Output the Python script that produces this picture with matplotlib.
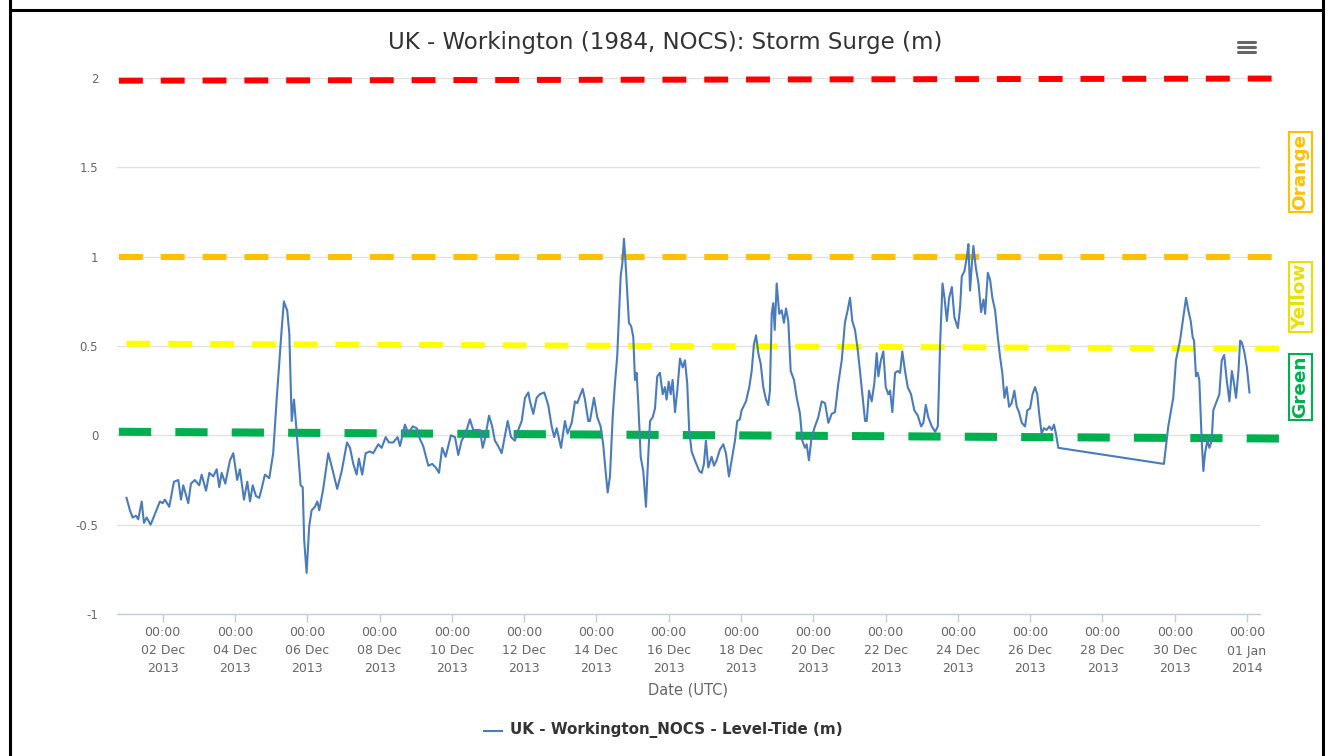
import numpy as np
import pandas as pd
import matplotlib
matplotlib.use("Agg")
import matplotlib.pyplot as plt
import matplotlib.dates as mdates
from matplotlib.lines import Line2D

# Storm surge at Workington, hours after 2013-12-01 00:00 UTC
hours = [
    0.0, 2.3, 4.1, 6.3, 7.8, 10.1, 11.6, 13.4, 16.0, 18.9, 22.2, 24.0, 25.5, 28.4,
    31.5, 34.4, 36.2, 37.7, 41.0, 42.8, 45.4, 48.3, 49.9, 52.8, 55.0, 57.6, 59.9,
    61.6, 63.2, 65.6, 68.7, 70.9, 73.5, 75.3, 78.0, 80.2, 82.0, 83.8, 86.0, 88.1,
    89.7, 91.9, 94.8, 97.4, 99.7, 101.4, 103.0, 104.5, 105.7, 106.7, 108.1, 109.7,
    111.2, 112.5, 114.0, 115.6, 117.0, 118.0, 119.6, 121.3, 122.9, 125.1, 126.7,
    128.0, 130.6, 134.0, 137.3, 139.9, 142.9, 146.4, 148.4, 150.6, 152.8, 154.3,
    156.5, 158.8, 161.6, 163.8, 167.2, 169.4, 172.1, 174.3, 177.1, 180.0, 181.6,
    184.9, 187.1, 190.0, 192.7, 194.8, 197.0, 200.4, 203.0, 205.3, 207.5, 209.6,
    211.9, 215.4, 218.1, 220.3, 222.5, 225.2, 228.0, 230.2, 232.5, 234.7, 236.5,
    238.0, 240.7, 242.8, 244.6, 246.8, 249.1, 251.3, 253.1, 255.3, 257.9, 260.1,
    262.4, 264.6, 266.8, 267.9, 270.1, 272.3, 274.5, 277.4, 280.0, 282.3, 284.0,
    285.6, 288.5, 291.1, 292.9, 295.6, 297.8, 299.3, 300.6, 302.9, 304.4, 306.6,
    307.7, 310.4, 312.6, 314.8, 316.5, 318.1, 319.5, 321.0, 322.8, 324.3, 325.8,
    328.1, 329.2, 330.3, 331.4, 332.5, 333.6, 335.1, 336.5, 337.6, 338.7, 339.8,
    341.4, 343.1, 344.9, 346.4, 347.6, 349.3, 350.9, 352.4, 354.2, 356.0, 357.5,
    358.6, 360.0, 361.3, 362.6, 364.2, 365.7, 367.5, 369.3, 370.8, 372.3, 373.6,
    375.2, 377.4, 380.3, 381.9, 383.4, 384.7, 386.3, 388.5, 390.1, 391.8, 394.0,
    396.2, 398.0, 400.0, 401.8, 404.0, 405.5, 407.3, 408.4, 411.3, 413.5, 415.1,
    416.6, 418.0, 419.5, 421.1, 422.8, 424.6, 426.1, 427.2, 428.4, 429.4, 430.4,
    431.7, 433.4, 435.0, 436.5, 437.9, 439.4, 441.0, 443.2, 445.0, 447.2, 448.7,
    450.5, 451.6, 453.1, 454.9, 457.1, 459.3, 461.6, 463.8, 466.0, 468.2, 470.4,
    472.6, 474.9, 477.0, 478.8, 480.4, 481.9, 483.7, 485.5, 487.0, 488.8, 490.4,
    491.5, 493.0, 494.8, 496.5, 498.1, 499.2, 500.9, 502.5, 504.1, 505.8, 507.0,
    508.5, 510.3, 512.1, 513.6, 515.1, 516.9, 518.7, 520.9, 523.1, 525.4, 527.6,
    529.1, 530.7, 532.4, 534.7, 536.9, 538.7, 540.2, 541.8, 543.1, 544.7, 546.2,
    548.0, 549.7, 552.0, 553.5, 554.6, 556.4, 558.0, 559.0, 560.1, 561.3, 562.3,
    563.9, 565.7, 567.4, 569.0, 570.1, 571.9, 573.4, 574.9, 576.7, 578.5, 580.0,
    581.5, 582.9, 584.4, 586.0, 587.7, 589.5, 591.1, 592.6, 594.4, 596.6, 598.1,
    599.9, 601.6, 603.2, 604.7, 606.0, 607.6, 609.2, 610.9, 612.7, 614.3, 615.8,
    617.1, 618.7, 688.8, 691.7, 695.0, 696.8, 699.5, 701.7, 703.5, 705.0, 706.6,
    707.9, 708.8, 710.1, 711.2, 712.3, 713.9, 715.0, 716.1, 717.6, 719.0, 720.5,
    721.6, 723.4, 725.6, 727.2, 728.8, 730.5, 732.3, 733.9, 735.0, 736.7, 738.3,
    739.4, 740.5, 742.1, 743.9, 745.6,
]
surge = [
    -0.35, -0.42, -0.46, -0.45, -0.47, -0.37, -0.49, -0.46, -0.50, -0.44, -0.37, -0.38, -0.36, -0.40,
    -0.26, -0.25, -0.36, -0.28, -0.38, -0.27, -0.25, -0.28, -0.22, -0.31, -0.21, -0.23, -0.19,
    -0.29, -0.21, -0.27, -0.14, -0.10, -0.25, -0.19, -0.36, -0.26, -0.37, -0.28, -0.34, -0.35,
    -0.30, -0.22, -0.24, -0.10, 0.20, 0.40, 0.59, 0.75, 0.72, 0.70, 0.57, 0.08,
    0.20, 0.07, -0.10, -0.28, -0.29, -0.59, -0.77, -0.51, -0.42, -0.40, -0.37,
    -0.42, -0.30, -0.10, -0.21, -0.30, -0.20, -0.04, -0.07, -0.16, -0.22, -0.13,
    -0.22, -0.10, -0.09, -0.10, -0.05, -0.07, -0.01, -0.04, -0.04, -0.01, -0.06,
    0.06, 0.01, 0.05, 0.04, -0.02, -0.06, -0.17, -0.16, -0.18, -0.21, -0.07,
    -0.12, 0.00, -0.01, -0.11, -0.03, 0.01, 0.09, 0.03, 0.03, 0.03, -0.07,
    -0.02, 0.11, 0.05, -0.03, -0.06, -0.10, 0.00, 0.08, -0.01, -0.03, 0.03,
    0.08, 0.21, 0.24, 0.19, 0.12, 0.21, 0.23, 0.24, 0.17, 0.05, -0.01,
    0.04, -0.07, 0.08, 0.01, 0.07, 0.19, 0.18, 0.21, 0.26, 0.20, 0.08,
    0.08, 0.21, 0.10, 0.05, -0.05, -0.20, -0.32, -0.23, 0.10, 0.29, 0.44,
    0.89, 0.96, 1.10, 0.96, 0.79, 0.63, 0.61, 0.55, 0.31, 0.35, 0.18,
    -0.12, -0.20, -0.40, -0.12, 0.08, 0.10, 0.15, 0.33, 0.35, 0.23, 0.27,
    0.20, 0.30, 0.23, 0.31, 0.13, 0.25, 0.43, 0.38, 0.42, 0.29, 0.03,
    -0.09, -0.14, -0.20, -0.21, -0.16, -0.03, -0.18, -0.12, -0.17, -0.14, -0.08,
    -0.05, -0.10, -0.23, -0.14, -0.03, 0.08, 0.09, 0.14, 0.19, 0.27, 0.36,
    0.51, 0.56, 0.46, 0.40, 0.27, 0.20, 0.17, 0.25, 0.68, 0.74, 0.59,
    0.85, 0.68, 0.70, 0.63, 0.71, 0.64, 0.36, 0.31, 0.21, 0.12, -0.03,
    -0.07, -0.05, -0.14, -0.01, 0.05, 0.10, 0.19, 0.18, 0.07, 0.12, 0.13,
    0.29, 0.42, 0.63, 0.70, 0.77, 0.64, 0.59, 0.48, 0.36, 0.21, 0.08,
    0.08, 0.25, 0.19, 0.29, 0.46, 0.33, 0.42, 0.47, 0.27, 0.23, 0.25,
    0.13, 0.35, 0.36, 0.35, 0.47, 0.36, 0.27, 0.23, 0.14, 0.11, 0.05,
    0.07, 0.17, 0.10, 0.05, 0.02, 0.05, 0.51, 0.85, 0.77, 0.64, 0.77,
    0.83, 0.66, 0.60, 0.72, 0.89, 0.92, 1.00, 1.07, 0.81, 0.96, 1.06,
    0.94, 0.85, 0.69, 0.76, 0.68, 0.91, 0.87, 0.77, 0.70, 0.55, 0.44,
    0.35, 0.21, 0.27, 0.16, 0.18, 0.25, 0.16, 0.13, 0.07, 0.05, 0.14,
    0.15, 0.23, 0.27, 0.23, 0.12, 0.01, 0.04, 0.03, 0.05, 0.03, 0.06,
    0.01, -0.07, -0.16, 0.05, 0.21, 0.42, 0.53, 0.66, 0.77, 0.70, 0.64,
    0.55, 0.53, 0.33, 0.35, 0.31, -0.03, -0.20, -0.10, -0.03, -0.07, -0.03,
    0.14, 0.18, 0.23, 0.42, 0.45, 0.31, 0.19, 0.36, 0.31, 0.21, 0.36,
    0.53, 0.52, 0.47, 0.38, 0.24,
]

# alert levels (m): value at the first and last hour of each level line
level_names = ["Red", "Orange", "Yellow", "Green"]
level_start_h = [-5.0, -5.0, 0.0, -5.0]
level_end_h = [766.0, 766.0, 766.0, 766.0]
level_start_v = [1.985, 1.0, 0.513, 0.02]
level_end_v = [1.997, 1.0, 0.485, -0.018]
level_colors = ["#FF0000", "#FFC000", "#FFFF00", "#00B050"]
level_widths = [4.3, 4.3, 4.3, 5.8]

y_ticks = [-1, -0.5, 0, 0.5, 1, 1.5, 2]

t0 = pd.Timestamp("2013-12-01 00:00")
times = t0 + pd.to_timedelta(hours, unit="h")

W, H = 1332, 756
fig = plt.figure(figsize=(W / 100, H / 100), dpi=100)
fig.patch.set_facecolor("white")

left, right, top, bottom = 117, 1260, 78, 614
ax = fig.add_axes([left / W, 1 - bottom / H, (right - left) / W, (bottom - top) / H])

ax.set_ylim(-1, 2)
ax.set_xlim(t0 - pd.Timedelta(hours=6.3), t0 + pd.Timedelta(hours=752.6))

for sp in ["top", "right", "left"]:
    ax.spines[sp].set_visible(False)
ax.spines["bottom"].set_color("#C0D0E0")
ax.spines["bottom"].set_linewidth(1.0)

ax.set_yticks(y_ticks)
ax.set_yticklabels(["-1", "-0.5", "0", "0.5", "1", "1.5", "2"])
ax.tick_params(axis="y", length=0, pad=13.5, labelsize=8.5, labelcolor="#666666")
ax.yaxis.grid(True, color="#E2E2E2", linewidth=1.0)
ax.set_axisbelow(True)

xt = pd.date_range("2013-12-02", "2014-01-01", freq="2D")
ax.set_xticks(xt)
ax.xaxis.set_major_formatter(mdates.DateFormatter("%H:%M\n%d %b\n%Y"))
ax.tick_params(axis="x", length=6, width=1, color="#C0D0E0", pad=3.0,
               labelsize=9, labelcolor="#666666")
for lab in ax.get_xticklabels():
    lab.set_linespacing(1.5)

# alert level lines
for i in range(len(level_names)):
    lx = [t0 + pd.Timedelta(hours=level_start_h[i]), t0 + pd.Timedelta(hours=level_end_h[i])]
    ly = [level_start_v[i], level_end_v[i]]
    ax.plot(lx, ly, color=level_colors[i], linewidth=level_widths[i],
            dashes=(4, 3), clip_on=False, zorder=2)

ax.plot(times, surge, color="#4a7cbc", linewidth=1.5, zorder=3)

# page frame
fig.add_artist(Line2D([9.5 / W, 9.5 / W], [0, 1], color="black", linewidth=2.2))
fig.add_artist(Line2D([1323 / W, 1323 / W], [0, 1], color="black", linewidth=2.2))
fig.add_artist(Line2D([9.5 / W, 1323 / W], [1 - 9.5 / H, 1 - 9.5 / H], color="black", linewidth=2.2))

fig.text(665 / W, 1 - 43 / H, "UK - Workington (1984, NOCS): Storm Surge (m)",
         ha="center", va="center", fontsize=16.5, color="#333333")

# export menu icon
for yy in [42, 47, 52]:
    fig.add_artist(Line2D([1238 / W, 1255 / W], [1 - yy / H, 1 - yy / H],
                          color="#666666", linewidth=2.2, solid_capstyle="round"))

fig.text(688 / W, 1 - 690 / H, "Date (UTC)", ha="center", va="center",
         fontsize=10.5, color="#666666")

# legend
fig.add_artist(Line2D([484 / W, 502 / W], [1 - 731 / H, 1 - 731 / H], color="#4a7cbc", linewidth=1.5))
fig.text(510 / W, 1 - 730 / H, "UK - Workington_NOCS - Level-Tide (m)", ha="left", va="center",
         fontsize=10.9, fontweight="bold", color="#333333")

# alert level tags on the right
tags = [("Orange", 172, "#FFC000"), ("Yellow", 297, "#EAE000"), ("Green", 387, "#00B050")]
for name, yc, col in tags:
    fig.text(1300.5 / W, 1 - yc / H, name, rotation=90, ha="center", va="center",
             fontsize=13.3, fontweight="bold", color=col,
             bbox=dict(boxstyle="square,pad=0.12", facecolor="none", edgecolor=col, linewidth=1.5))

fig.savefig("out.png", dpi=100)
